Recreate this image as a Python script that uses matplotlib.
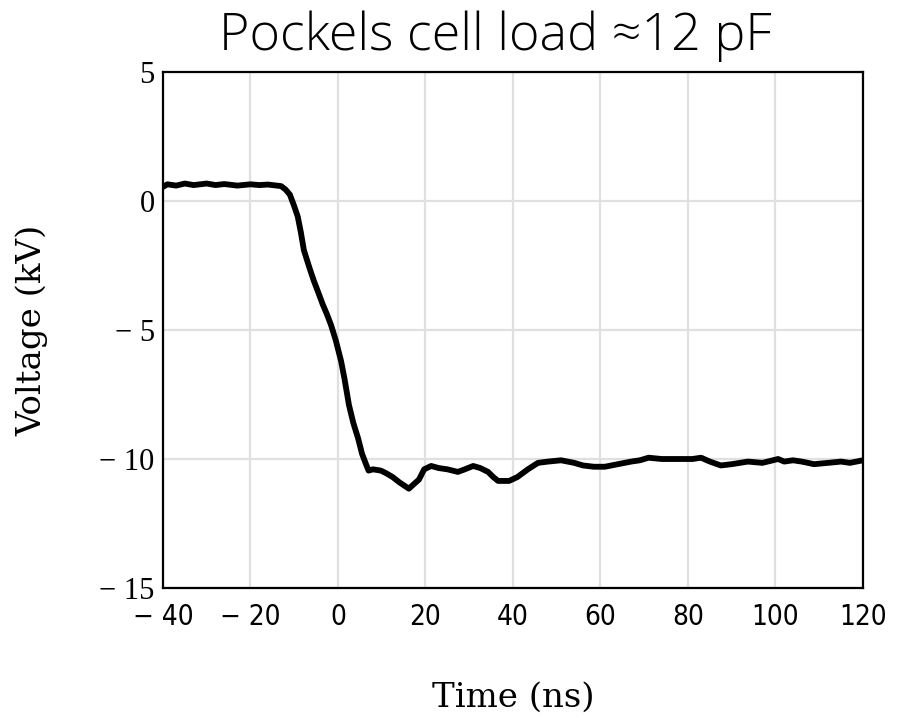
import numpy as np
import matplotlib
matplotlib.use('Agg')
import matplotlib.pyplot as plt

# trace (ns, kV)
time_ns = [-40, -39, -37, -35, -33, -30, -28, -26, -23, -20, -18, -16, -14, -13,
           -12, -11, -10, -9.2, -8.5, -7.8, -6.5, -5.5, -4.6, -3.5, -2.5, -1.6,
           -0.5, 0.7, 1.5, 2.5, 3.5, 4.6, 5.5, 6.4, 7, 8, 9.8, 11, 12.5, 14,
           16.2, 17.5, 18.5, 19.7, 21.3, 23, 25, 27.4, 29, 30.9, 32.5, 34.3,
           35.5, 36.6, 39.1, 41, 43.4, 45.7, 48, 51, 54, 56, 58.5, 61, 64, 67,
           69, 71, 74, 76, 79, 81, 83, 85, 87.5, 90, 93.7, 97, 100.6, 102, 104,
           106, 108.8, 112, 115, 117, 120]
voltage_kv = [0.55, 0.65, 0.6, 0.68, 0.62, 0.68, 0.62, 0.66, 0.6, 0.65, 0.62,
              0.64, 0.6, 0.58, 0.45, 0.25, -0.2, -0.6, -1.2, -1.9, -2.6, -3.1,
              -3.5, -4.0, -4.4, -4.8, -5.4, -6.2, -6.9, -7.9, -8.6, -9.2, -9.8,
              -10.2, -10.45, -10.4, -10.45, -10.55, -10.7, -10.9, -11.15, -10.95,
              -10.8, -10.4, -10.27, -10.35, -10.4, -10.5, -10.4, -10.27, -10.35,
              -10.5, -10.7, -10.85, -10.85, -10.7, -10.4, -10.15, -10.1, -10.05,
              -10.15, -10.25, -10.3, -10.3, -10.2, -10.1, -10.05, -9.95, -10.0,
              -10.0, -10.0, -10.0, -9.95, -10.1, -10.25, -10.2, -10.1, -10.15,
              -10.0, -10.1, -10.05, -10.1, -10.2, -10.15, -10.1, -10.15, -10.05]

xticks = [-40, -20, 0, 20, 40, 60, 80, 100, 120]
yticks = [5, 0, -5, -10, -15]

serif = ['DejaVu Serif', 'Liberation Serif']

fig = plt.figure(figsize=(8.98, 7.21), dpi=100)
ax = fig.add_axes([0.1815, 0.1845, 0.7795, 0.7155])

ax.plot(time_ns, voltage_kv, color='black', lw=4.2, solid_joinstyle='round',
        solid_capstyle='round')

ax.set_xlim(-40, 120)
ax.set_ylim(-15, 5)
ax.set_xticks(xticks)
ax.set_yticks(yticks)
ax.set_xticklabels([str(t).replace('-', '\u2212 ') for t in xticks],
                   family='DejaVu Sans', fontstretch='condensed', fontsize=20)
ax.set_yticklabels([str(t).replace('-', '\u2212 ') for t in yticks],
                   family=['Liberation Serif', 'DejaVu Serif'], fontsize=22)
ax.tick_params(length=0, pad=6)
ax.tick_params(axis='x', pad=11)
ax.grid(True, color='#e0e0e0', lw=1.6)
ax.set_axisbelow(True)
for s in ax.spines.values():
    s.set_linewidth(1.6)

ax.set_xlabel('Time (ns)', family=serif, fontsize=24.5, labelpad=36)
ax.set_ylabel('Voltage (kV)', family=serif, fontsize=24.5, labelpad=37)
fig.text(0.552, 0.93, 'Pockels cell load \u224812 pF', ha='center',
         va='baseline', family=['Open Sans', 'DejaVu Sans'], weight='light',
         fontsize=37.5)

fig.savefig('out.png', dpi=100)
